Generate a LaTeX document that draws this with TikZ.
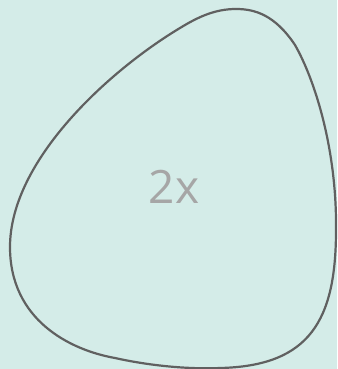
\documentclass[tikz,border=0pt]{standalone}
\usepackage{fontspec}
\setmainfont{Open Sans}
\usepackage{tikz}
\usetikzlibrary{calc}
\usepackage{xcolor}
\definecolor{bgteal}{HTML}{D4ECE8}
\definecolor{blobline}{HTML}{606060}
\definecolor{labelgray}{HTML}{A6A6A6}

\begin{document}
\begin{tikzpicture}[x=1pt, y=-1pt]

\fill[bgteal] (0,0) rectangle (337,369);
\useasboundingbox (0,0) rectangle (337,369);

\draw[blobline, line width=2.2pt] (236,9) .. controls (215,9) and (198,17) .. (180,28)
  .. controls (110,70) and (10,160) .. (10,247)
  .. controls (10,320) and (70,350) .. (115,358)
  .. controls (160,368) and (200,369) .. (220,368)
  .. controls (310,366) and (336,320) .. (336,230)
  .. controls (337,150) and (315,80) .. (295,45)
  .. controls (275,15) and (255,9) .. (236,9) -- cycle;

\node[labelgray, font=\fontsize{46}{50}\selectfont] (label) at (174,187) {2x};

\end{tikzpicture}
\end{document}
